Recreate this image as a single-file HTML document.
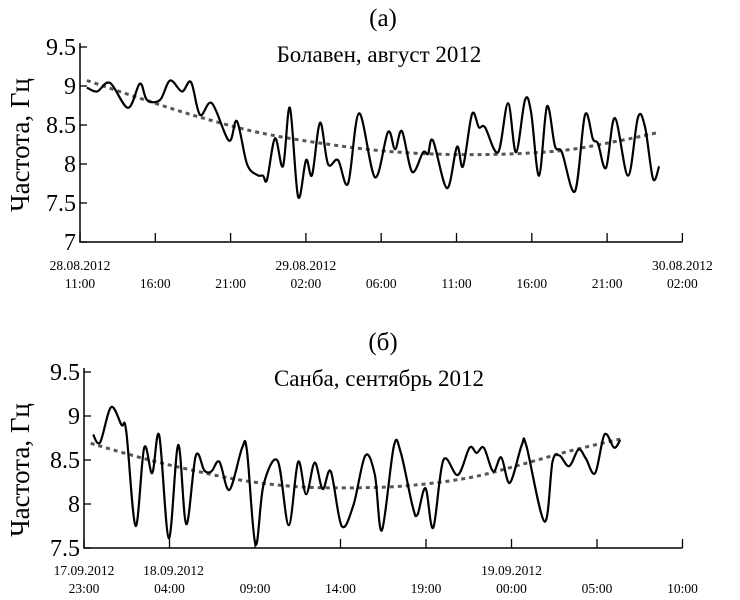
<!DOCTYPE html>
<html><head><meta charset="utf-8"><style>
html,body{margin:0;padding:0;background:#fff;}
svg{display:block;font-family:"Liberation Serif","DejaVu Serif",serif;}
</style></head><body>
<svg id="fig" width="740" height="600" viewBox="0 0 740 600">
<g id="gA"></g>
<g id="gB"></g>
</svg>
<script>
// Chart A data (hours since 28.08.2012 11:00)
const aHours=[0.46,1.13,1.99,3.19,3.98,4.45,5.31,5.98,6.77,7.37,7.97,8.76,9.89,10.42,11.09,11.75,12.15,12.42,12.95,13.48,13.94,14.48,15.01,15.41,15.94,16.47,17.13,17.8,18.53,19.59,20.45,20.92,21.38,22.05,22.78,23.11,23.44,24.37,25.03,25.43,26.03,26.49,26.89,27.76,28.42,28.95,29.55,29.95,30.48,31.01,31.54,32.0,32.87,33.53,34.06,34.4,34.93,35.52,36.39,37.05,37.52,38.05,38.45];
const aValues=[8.98,8.93,9.04,8.72,9.03,8.82,8.82,9.07,8.93,9.05,8.63,8.78,8.3,8.55,8.0,7.86,7.85,7.8,8.33,7.97,8.72,7.58,8.05,7.86,8.53,8.0,8.05,7.75,8.65,7.83,8.41,8.19,8.42,7.9,8.15,8.13,8.3,7.69,8.22,7.97,8.64,8.47,8.47,8.15,8.78,8.15,8.82,8.67,7.85,8.74,8.23,8.15,7.65,8.63,8.32,8.26,7.95,8.59,7.85,8.6,8.47,7.81,7.97];
const aTrendHours=[0.46,4.65,7.97,11.95,16.6,21.25,26.56,31.87,35.86,38.31];
const aTrendValues=[9.07,8.80,8.60,8.40,8.25,8.15,8.12,8.17,8.30,8.40];
const aYTicks=[7,7.5,8,8.5,9,9.5];
const aYTickLabels=["7","7.5","8","8.5","9","9.5"];
const aXTicks=[0,5,10,15,20,25,30,35,40];
const aXDates=["28.08.2012","","","29.08.2012","","","","","30.08.2012"];
const aXTimes=["11:00","16:00","21:00","02:00","06:00","11:00","16:00","21:00","02:00"];
// Chart B data (hours since 17.09.2012 23:00)
const bHours=[0.53,0.94,1.58,2.19,2.47,3.02,3.52,3.99,4.40,4.96,5.51,5.98,6.54,7.04,7.45,7.92,8.50,9.25,9.53,10.03,10.50,11.33,11.97,12.52,12.99,13.49,13.96,14.43,15.07,15.76,16.45,17.01,17.42,18.12,18.53,19.22,19.50,19.97,20.42,21.02,21.86,22.55,22.96,23.38,23.93,24.40,24.90,25.60,25.87,26.93,27.40,27.81,28.37,28.92,29.34,29.89,30.44,31.00,31.36];
const bValues=[8.79,8.70,9.10,8.90,8.83,7.75,8.64,8.35,8.78,7.61,8.67,7.77,8.55,8.38,8.37,8.48,8.16,8.64,8.60,7.54,8.22,8.49,7.76,8.48,8.11,8.47,8.17,8.37,7.75,7.99,8.55,8.33,7.70,8.66,8.58,7.97,7.88,8.18,7.73,8.50,8.33,8.64,8.58,8.64,8.37,8.53,8.24,8.67,8.66,7.80,8.48,8.55,8.43,8.62,8.52,8.35,8.79,8.64,8.73];
const bTrendHours=[0.39,3.43,6.2,9.53,13.13,17.29,20.06,22.83,25.6,28.37,31.41];
const bTrendValues=[8.69,8.52,8.39,8.26,8.19,8.19,8.23,8.31,8.45,8.60,8.74];
const bYTicks=[7.5,8,8.5,9,9.5];
const bYTickLabels=["7.5","8","8.5","9","9.5"];
const bXTicks=[0,5,10,15,20,25,30,35];
const bXDates=["17.09.2012","18.09.2012","","","","19.09.2012","",""];
const bXTimes=["23:00","04:00","09:00","14:00","19:00","00:00","05:00","10:00"];

const NS="http://www.w3.org/2000/svg";
function mk(parent,tag,attrs){const e=document.createElementNS(NS,tag);for(const k in attrs)e.setAttribute(k,attrs[k]);parent.appendChild(e);return e;}
function smooth(pts){
  let d="M"+pts[0][0].toFixed(1)+","+pts[0][1].toFixed(1);
  for(let i=0;i<pts.length-1;i++){
    const p0=pts[Math.max(0,i-1)],p1=pts[i],p2=pts[i+1],p3=pts[Math.min(pts.length-1,i+2)];
    const c1=[p1[0]+(p2[0]-p0[0])/6,p1[1]+(p2[1]-p0[1])/6];
    const c2=[p2[0]-(p3[0]-p1[0])/6,p2[1]-(p3[1]-p1[1])/6];
    d+=" C"+c1[0].toFixed(1)+","+c1[1].toFixed(1)+" "+c2[0].toFixed(1)+","+c2[1].toFixed(1)+" "+p2[0].toFixed(1)+","+p2[1].toFixed(1);
  }
  return d;
}
function drawChart(g,cfg){
  const X=h=>cfg.x0+h*cfg.pxPerHour;
  const Y=v=>cfg.yBase-(v-cfg.vMin)*cfg.pxPerUnit;
  let t=mk(g,"text",{x:cfg.cx,y:cfg.panelY,"text-anchor":"middle","font-size":25});
  t.textContent=cfg.panel;
  
  
  t=mk(g,"text",{x:cfg.cx-4,y:cfg.titleY,"text-anchor":"middle","font-size":23});
  t.textContent=cfg.title;
  
  
  t=mk(g,"text",{x:0,y:0,"text-anchor":"middle","font-size":27,transform:"translate(29,"+cfg.ylabY+") rotate(-90)"});
  t.textContent="Частота, Гц";
  
  
  const xEnd=X(cfg.xTicks[cfg.xTicks.length-1]);
  let ax=mk(g,"path",{d:"M"+cfg.x0+","+(Y(cfg.yTicks[cfg.yTicks.length-1])-4)+" V"+cfg.yBase+" H"+xEnd,fill:"none",stroke:"#000","stroke-width":1.5});
  
  
  cfg.yTicks.forEach((v,i)=>{
    const tk=mk(g,"line",{x1:cfg.x0,x2:cfg.x0+7,y1:Y(v),y2:Y(v),stroke:"#000","stroke-width":1.3});
    
    
    const lb=mk(g,"text",{x:cfg.x0-4,y:Y(v)+8,"text-anchor":"end","font-size":24});
    lb.textContent=cfg.yLabels[i];
    
    
  });
  cfg.xTicks.forEach((h,i)=>{
    const tk=mk(g,"line",{x1:X(h),x2:X(h),y1:cfg.yBase,y2:cfg.yBase-9,stroke:"#000","stroke-width":1.3});
    
    
    if(cfg.xDates[i]){
      const d=mk(g,"text",{x:X(h)+(cfg.dateOff[i]||0),y:cfg.yBase+cfg.dateDy,"text-anchor":"middle","font-size":13.5});
      d.textContent=cfg.xDates[i];
      
      
    }
    const tl=mk(g,"text",{x:X(h),y:cfg.yBase+cfg.dateDy+18,"text-anchor":"middle","font-size":13.5});
    tl.textContent=cfg.xTimes[i];
    
    
  });
  const tr=mk(g,"path",{d:smooth(cfg.th.map((h,i)=>[X(h),Y(cfg.tv[i])])),fill:"none",stroke:"#555","stroke-width":3,"stroke-dasharray":"4,4"});
  
  
  const ln=mk(g,"path",{d:smooth(cfg.hs.map((h,i)=>[X(h),Y(cfg.vs[i])])),fill:"none",stroke:"#000","stroke-width":2.2,"stroke-linejoin":"round"});
  
  
}
drawChart(document.getElementById("gA"),{x0:80,pxPerHour:15.06,yBase:242,vMin:7,pxPerUnit:78,
  hs:aHours,vs:aValues,th:aTrendHours,tv:aTrendValues,yTicks:aYTicks,yLabels:aYTickLabels,
  xTicks:aXTicks,xDates:aXDates,xTimes:aXTimes,dateOff:{},dateDy:28,
  panel:"(а)",panelY:26,title:"Болавен, август 2012",titleY:62,cx:383,ylabY:145});
drawChart(document.getElementById("gB"),{x0:84,pxPerHour:17.1,yBase:548,vMin:7.5,pxPerUnit:88,
  hs:bHours,vs:bValues,th:bTrendHours,tv:bTrendValues,yTicks:bYTicks,yLabels:bYTickLabels,
  xTicks:bXTicks,xDates:bXDates,xTimes:bXTimes,dateOff:{1:4},dateDy:27,
  panel:"(б)",panelY:350,title:"Санба, сентябрь 2012",titleY:386,cx:383,ylabY:470});
</script>
</body></html>
